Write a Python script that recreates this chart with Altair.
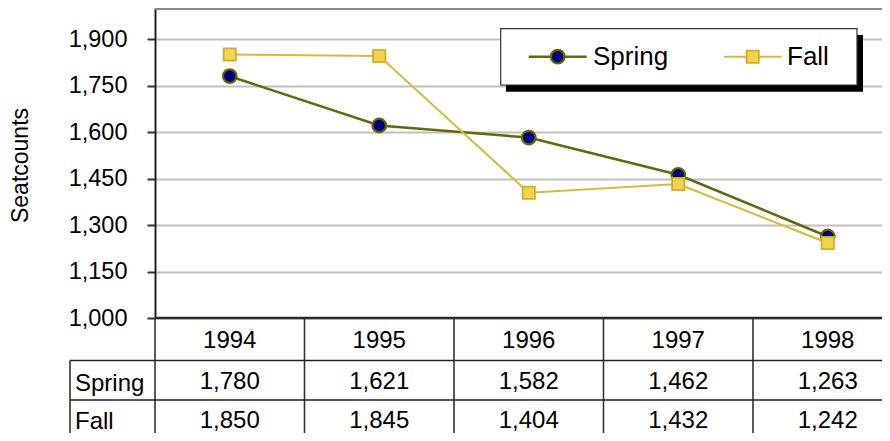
import altair as alt
import pandas as pd

# ---------------- data ----------------
years = ["1994", "1995", "1996", "1997", "1998"]
spring = [1780, 1621, 1582, 1462, 1263]
fall = [1850, 1845, 1404, 1432, 1242]
series_names = ["Spring", "Fall"]
y_ticks = [1000, 1150, 1300, 1450, 1600, 1750, 1900]
y_title = "Seatcounts"

idx = list(range(len(years)))
spring_df = pd.DataFrame({"idx": idx, "year": years, "value": spring})
fall_df = pd.DataFrame({"idx": idx, "year": years, "value": fall})
bounds_df = pd.DataFrame({"b": [i - 0.5 for i in idx]})
one = pd.DataFrame({"s": [series_names[0]]})
two = pd.DataFrame({"s": [series_names[1]]})
dummy = pd.DataFrame({"d": [0]})

# ---------------- style ----------------
F = "Liberation Sans, Arial, sans-serif"
OLIVE = "#5F6A0E"
OLIVE_STROKE = "#666600"
NAVY = "#00007F"
GOLD_LINE = "#D8BA3A"
GOLD_FILL = "#F0D44C"
GOLD_STROKE = "#CFAE2E"
W, H = 727, 310
TABLE_BOTTOM = 425

xs = alt.Scale(domain=[-0.5, 4.363], nice=False, zero=False)
ys = alt.Scale(domain=[1000, 2000], nice=False, zero=False)

yaxis = alt.Axis(
    values=y_ticks, format=",.0f", labelFont=F, labelFontSize=23.5, labelColor="black",
    labelPadding=20, labelFlush=False, labelOverlap=False,
    tickSize=8, tickColor="#333333", tickWidth=2,
    domainColor="#222222", domainWidth=2,
    grid=True, gridColor="#C0C0C0", gridWidth=2,
    title=y_title, titleFont=F, titleFontSize=23, titleFontWeight="normal",
    titleColor="black", titleAngle=270, titleX=-135, titleY=157,
    titleAlign="center", titleBaseline="middle",
)
X = alt.X("idx:Q", scale=xs, axis=None)
Y = alt.Y("value:Q", scale=ys, axis=yaxis)

spring_line = alt.Chart(spring_df).mark_line(color=OLIVE, strokeWidth=2.5).encode(x=X, y=Y)
spring_pts = alt.Chart(spring_df).mark_point(
    shape="circle", filled=True, fill=NAVY, stroke=OLIVE_STROKE, strokeWidth=2.2,
    size=185, opacity=1, fillOpacity=1).encode(x=X, y=Y)
fall_line = alt.Chart(fall_df).mark_line(color=GOLD_LINE, strokeWidth=2).encode(x=X, y=Y)
fall_pts = alt.Chart(fall_df).mark_point(
    shape="square", filled=True, fill=GOLD_FILL, stroke=GOLD_STROKE, strokeWidth=1.8,
    size=150, opacity=1, fillOpacity=1).encode(x=X, y=Y)

# plot frame
top_border = alt.Chart(dummy).mark_rule(color="#8A8A8A", strokeWidth=2).encode(
    x=alt.value(0), x2=alt.value(W), y=alt.value(1))
bottom_axis = alt.Chart(dummy).mark_rule(color="#2A2A2A", strokeWidth=2.5).encode(
    x=alt.value(0), x2=alt.value(W), y=alt.value(H))

# data table
ROW1, ROW2 = 352.5, 392
vlines = alt.Chart(bounds_df).mark_rule(color="#333333", strokeWidth=1.6).encode(
    x=alt.X("b:Q", scale=xs, axis=None), y=alt.value(H), y2=alt.value(TABLE_BOTTOM))
label_col = alt.Chart(dummy).mark_rule(color="#333333", strokeWidth=1.6).encode(
    x=alt.value(-85), y=alt.value(ROW1), y2=alt.value(TABLE_BOTTOM))
hline1 = alt.Chart(dummy).mark_rule(color="#222222", strokeWidth=1.5).encode(
    x=alt.value(-85), x2=alt.value(W), y=alt.value(ROW1))
hline2 = alt.Chart(dummy).mark_rule(color="#222222", strokeWidth=1.5).encode(
    x=alt.value(-85), x2=alt.value(W), y=alt.value(ROW2))

txt = dict(font=F, fontSize=24, color="black", baseline="alphabetic")
year_txt = alt.Chart(spring_df).mark_text(align="center", **txt).encode(
    x=X, y=alt.value(339.5), text="year:N")
spring_txt = alt.Chart(spring_df).mark_text(align="center", **txt).encode(
    x=X, y=alt.value(380.5), text=alt.Text("value:Q", format=","))
fall_txt = alt.Chart(fall_df).mark_text(align="center", **txt).encode(
    x=X, y=alt.value(419.5), text=alt.Text("value:Q", format=","))
spring_lbl = alt.Chart(one).mark_text(align="left", **txt).encode(
    x=alt.value(-80), y=alt.value(382.5), text="s:N")
fall_lbl = alt.Chart(two).mark_text(align="left", **txt).encode(
    x=alt.value(-80), y=alt.value(421), text="s:N")

# legend
shadow = alt.Chart(dummy).mark_rect(color="black").encode(
    x=alt.value(351), x2=alt.value(708), y=alt.value(27), y2=alt.value(83.7))
box = alt.Chart(dummy).mark_rect(fill="white", stroke="#333333", strokeWidth=1.2).encode(
    x=alt.value(345.7), x2=alt.value(702), y=alt.value(20.7), y2=alt.value(77))
lg_sp_line = alt.Chart(dummy).mark_rule(color=OLIVE, strokeWidth=2.5).encode(
    x=alt.value(373.7), x2=alt.value(431.7), y=alt.value(48.7))
lg_sp_pt = alt.Chart(dummy).mark_point(
    shape="circle", filled=True, fill=NAVY, stroke=OLIVE_STROKE, strokeWidth=2.2,
    size=185, opacity=1).encode(x=alt.value(402.7), y=alt.value(48.7))
lg_sp_txt = alt.Chart(one).mark_text(align="left", font=F, fontSize=26, color="black",
                                     baseline="alphabetic").encode(
    x=alt.value(438), y=alt.value(57), text="s:N")
lg_fa_line = alt.Chart(dummy).mark_rule(color=GOLD_LINE, strokeWidth=2).encode(
    x=alt.value(569), x2=alt.value(626.7), y=alt.value(48.7))
lg_fa_pt = alt.Chart(dummy).mark_point(
    shape="square", filled=True, fill=GOLD_FILL, stroke=GOLD_STROKE, strokeWidth=1.8,
    size=150, opacity=1).encode(x=alt.value(597.7), y=alt.value(48.7))
lg_fa_txt = alt.Chart(two).mark_text(align="left", font=F, fontSize=26, color="black",
                                     baseline="alphabetic").encode(
    x=alt.value(632), y=alt.value(57), text="s:N")

chart = alt.layer(
    spring_line, top_border, bottom_axis,
    vlines, label_col, hline1, hline2,
    year_txt, spring_txt, fall_txt, spring_lbl, fall_lbl,
    spring_pts, fall_line, fall_pts,
    shadow, box, lg_sp_line, lg_sp_pt, lg_sp_txt, lg_fa_line, lg_fa_pt, lg_fa_txt,
).properties(
    width=W, height=H,
    autosize=alt.AutoSizeParams(type="none"),
    padding={"left": 147, "top": 0, "right": 0, "bottom": 115},
    background="white",
).configure_view(stroke=None)

chart.save("out.html", embed_options={"renderer": "svg", "actions": False})
